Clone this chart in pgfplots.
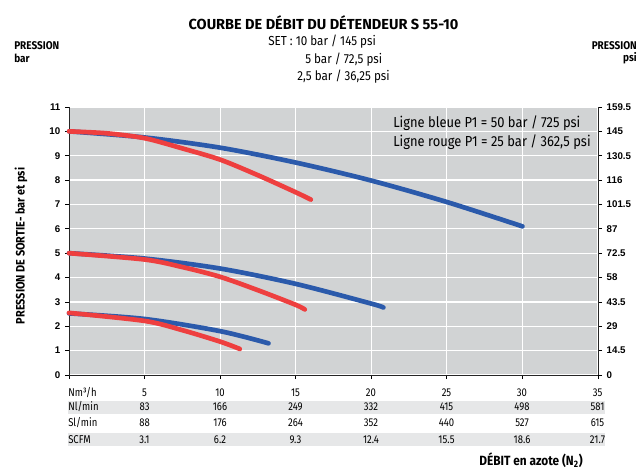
\documentclass[border=0pt]{standalone}
\usepackage{pgfplots}
\pgfplotsset{compat=1.18}
\usepackage{fontspec}
\setmainfont{Fira Sans}[FakeStretch=0.89]
\newfontfamily\titlefont{Fira Sans}[FakeStretch=1.0]
\newfontfamily\tabfont{Fira Sans}[FakeStretch=0.84]
\newfontfamily\tickfont{Liberation Sans}
\definecolor{bgc}{HTML}{D1D3D4}
\definecolor{bandc}{HTML}{E6E7E8}
\definecolor{bluec}{HTML}{2B5AAB}
\definecolor{redc}{HTML}{EE3F3F}
\begin{document}
\begin{tikzpicture}[x=0.75pt,y=-0.75pt]
\path[use as bounding box] (0,0) rectangle (638,470);
% table bands
\fill[bandc] (68,401) rectangle (605,414);
\fill[bandc] (68,433) rectangle (605,446);
\begin{axis}[
  at={(51.75pt,-281.25pt)}, anchor=south west,
  scale only axis, width=396.75pt, height=201pt,
  xmin=0, xmax=35, ymin=0, ymax=11,
  axis background/.style={fill=bgc},
  grid=major, major grid style={white, line width=0.9pt},
  xtick={0,5,...,35}, xticklabels={},
  ytick={0,1,...,11},
  yticklabel style={font=\tickfont\bfseries\fontsize{7.3}{8}\selectfont},
  /pgf/number format/assume math mode=true,
  axis x line*=bottom, axis y line*=left,
  axis line style={black!85, line width=0.6pt, -},
  tick style={black, line width=0.6pt},
  tick align=outside, major tick length=3pt,
  clip=false,
  every axis plot/.append style={line width=3.5pt, line cap=round, no markers, smooth},
]
\addplot[bluec] coordinates {(0,10) (5,9.75) (10,9.33) (15,8.72) (20,7.98) (25,7.1) (30,6.1)};
\addplot[bluec] coordinates {(0,5) (5,4.78) (10,4.37) (15,3.74) (20,2.93) (20.8,2.77)};
\addplot[bluec] coordinates {(0,2.53) (5,2.3) (10,1.8) (13.2,1.3)};
\addplot[redc] coordinates {(0,10) (2.5,9.92) (5,9.72) (7.5,9.3) (10,8.84) (12.5,8.2) (15,7.5) (16,7.2)};
\addplot[redc] coordinates {(0,5) (5,4.74) (7.5,4.43) (10,4.03) (12.5,3.48) (15,2.88) (15.6,2.69)};
\addplot[redc] coordinates {(0,2.55) (5,2.22) (7.5,1.84) (10,1.37) (11.3,1.07)};
\end{axis}
\begin{axis}[
  at={(51.75pt,-281.25pt)}, anchor=south west,
  scale only axis, width=396.75pt, height=201pt,
  xmin=0, xmax=35, ymin=0, ymax=159.5,
  axis x line=none, axis y line*=right,
  ytick={0,14.5,29,43.5,58,72.5,87,101.5,116,130.5,145,159.5},
  yticklabels={0,14.5,29,43.5,58,72.5,87,101.5,116,130.5,145,159.5},
  yticklabel style={font=\tickfont\bfseries\fontsize{7.3}{8}\selectfont},
  axis line style={black!85, line width=0.6pt, -},
  tick style={black, line width=0.6pt},
  tick align=outside, major tick length=3pt,
]
\addplot[draw=none] coordinates {(0,0)};
\end{axis}
% titles
\node[font=\titlefont\bfseries\fontsize{10.9}{12}\selectfont] at (323.5,22.5) {COURBE DE DÉBIT DU DÉTENDEUR S 55-10};
\node[anchor=west, inner sep=0pt, font=\fontsize{9.8}{11}\selectfont] at (268,42) {SET : 10 bar / 145 psi};
\node[anchor=west, inner sep=0pt, font=\fontsize{9.8}{11}\selectfont] at (305,60) {5 bar / 72,5 psi};
\node[anchor=west, inner sep=0pt, font=\fontsize{9.8}{11}\selectfont] at (297,77) {2,5 bar / 36,25 psi};
\node[anchor=west, inner sep=0pt, font=\bfseries\fontsize{8.4}{9}\selectfont] at (14,45.5) {PRESSION};
\node[anchor=west, inner sep=0pt, font=\bfseries\fontsize{8.4}{9}\selectfont] at (14,58) {bar};
\node[anchor=east, inner sep=0pt, font=\bfseries\fontsize{8.4}{9}\selectfont] at (637,45.5) {PRESSION};
\node[anchor=east, inner sep=0pt, font=\bfseries\fontsize{8.4}{9}\selectfont] at (637,58) {psi};
\node[rotate=90, font=\bfseries\fontsize{9.2}{10}\selectfont] at (21,246) {PRESSION DE SORTIE- bar et psi};
\node[anchor=west, inner sep=0pt, font=\fontsize{10.9}{12}\selectfont] at (393,123) {Ligne bleue P1 = 50 bar / 725 psi};
\node[anchor=west, inner sep=0pt, font=\fontsize{10.9}{12}\selectfont] at (393,142) {Ligne rouge P1 = 25 bar / 362,5 psi};
% table
\begin{scope}[every node/.style={font=\tabfont\fontsize{8.5}{9}\selectfont, inner sep=0pt}]
\node[anchor=west] at (68,393) {Nm³/h};
\node[anchor=west] at (68,407) {Nl/min};
\node[anchor=west] at (68,423) {Sl/min};
\node[anchor=west] at (68,440) {SCFM};
\foreach \k/\a/\b/\c/\d in {1/5/83/88/3.1, 2/10/166/176/6.2, 3/15/249/264/9.3, 4/20/332/352/12.4, 5/25/415/440/15.5, 6/30/498/527/18.6, 7/35/581/615/21.7}{
  \node at ({69+75.5*\k},393) {\a};
  \node at ({69+75.5*\k},407) {\b};
  \node at ({69+75.5*\k},423) {\c};
  \node at ({69+75.5*\k},440) {\d};
}
\end{scope}
\node[font=\bfseries\fontsize{10}{11}\selectfont] at (531,460) {DÉBIT en azote (N\textsubscript{2})};
\end{tikzpicture}
\end{document}
